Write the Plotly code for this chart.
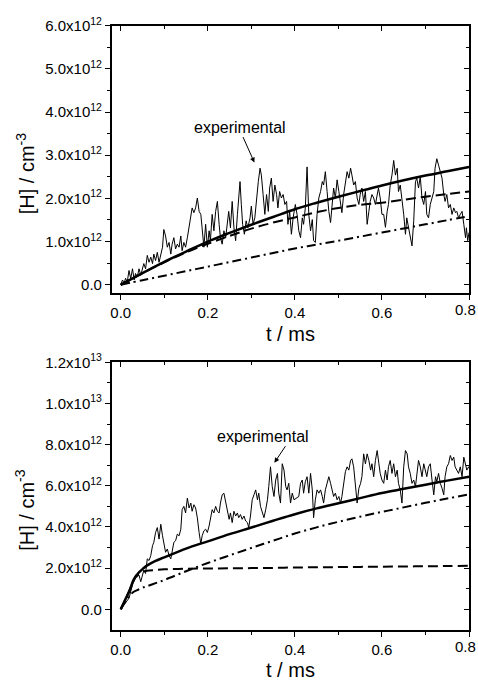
import plotly.graph_objects as go

# ---------------- data (H concentration in units of 1e12 cm^-3, t in ms) ----------------
t_model_top = [0, 0.05, 0.1, 0.15, 0.2, 0.25, 0.3, 0.35, 0.4, 0.45, 0.5, 0.55, 0.6, 0.65, 0.7, 0.75, 0.8]
solid_top = [0, 0.27, 0.53, 0.77, 1.0, 1.2, 1.39, 1.57, 1.75, 1.9, 2.04, 2.17, 2.30, 2.42, 2.53, 2.63, 2.73]
dashed_top = [0, 0.27, 0.52, 0.75, 0.95, 1.13, 1.3, 1.44, 1.56, 1.68, 1.78, 1.85, 1.90, 1.97, 2.04, 2.10, 2.16]
dashdot_top = [0, 0.105, 0.21, 0.315, 0.42, 0.525, 0.63, 0.735, 0.84, 0.93, 1.02, 1.115, 1.21, 1.305, 1.40, 1.495, 1.59]

t_exp_top = [0.000, 0.004, 0.008, 0.011, 0.015, 0.019, 0.023, 0.027, 0.031, 0.034, 0.038, 0.042, 0.046, 0.050,
             0.053, 0.057, 0.061, 0.065, 0.069, 0.073, 0.076, 0.080, 0.084, 0.088, 0.092, 0.096, 0.099, 0.103,
             0.107, 0.111, 0.115, 0.118, 0.122, 0.126, 0.130, 0.134, 0.138, 0.141, 0.145, 0.149, 0.153, 0.157,
             0.161, 0.164, 0.168, 0.172, 0.176, 0.180, 0.184, 0.187, 0.191, 0.195, 0.199, 0.203, 0.206, 0.210,
             0.214, 0.218, 0.222, 0.226, 0.229, 0.233, 0.237, 0.241, 0.245, 0.248, 0.252, 0.256, 0.260, 0.264,
             0.268, 0.271, 0.274, 0.277, 0.280, 0.284, 0.288, 0.292, 0.297, 0.300, 0.304, 0.308, 0.312, 0.316,
             0.320, 0.323, 0.327, 0.331, 0.335, 0.339, 0.342, 0.346, 0.350, 0.354, 0.358, 0.361, 0.365, 0.369,
             0.373, 0.377, 0.381, 0.384, 0.388, 0.392, 0.396, 0.401, 0.405, 0.409, 0.413, 0.417, 0.420, 0.424,
             0.428, 0.432, 0.436, 0.440, 0.443, 0.447, 0.451, 0.455, 0.459, 0.463, 0.466, 0.470, 0.474, 0.478,
             0.482, 0.485, 0.489, 0.493, 0.497, 0.501, 0.505, 0.508, 0.512, 0.516, 0.520, 0.524, 0.528, 0.531,
             0.535, 0.539, 0.543, 0.547, 0.550, 0.554, 0.558, 0.562, 0.566, 0.570, 0.573, 0.577, 0.581, 0.585,
             0.589, 0.592, 0.596, 0.600, 0.604, 0.608, 0.612, 0.615, 0.619, 0.623, 0.627, 0.631, 0.635, 0.638,
             0.642, 0.646, 0.650, 0.654, 0.657, 0.661, 0.665, 0.669, 0.673, 0.677, 0.680, 0.684, 0.688, 0.692,
             0.696, 0.700, 0.703, 0.707, 0.711, 0.715, 0.719, 0.722, 0.726, 0.730, 0.734, 0.738, 0.742, 0.745,
             0.749, 0.753, 0.757, 0.761, 0.765, 0.769, 0.772, 0.776, 0.780, 0.784, 0.788, 0.792, 0.794, 0.797,
             0.800]
h_exp_top = [0.00, 0.11, 0.04, 0.15, 0.07, 0.33, 0.14, 0.37, 0.11, 0.26, 0.18, 0.37, 0.22, 0.41,
             0.49, 0.37, 0.68, 0.52, 0.64, 0.49, 0.71, 0.56, 0.75, 0.52, 0.68, 0.87, 1.28, 1.13,
             0.87, 0.98, 0.71, 0.94, 1.09, 0.83, 0.94, 0.87, 1.13, 0.79, 0.98, 0.87, 1.09, 1.32,
             1.55, 1.78, 1.67, 1.78, 2.01, 1.70, 1.63, 1.25, 0.87, 1.40, 0.87, 1.25, 1.02, 1.63,
             1.25, 1.70, 1.93, 1.40, 1.09, 0.94, 1.25, 1.09, 1.55, 1.70, 1.32, 1.93, 1.32, 1.02,
             1.63, 2.16, 2.39, 1.86, 1.40, 1.17, 1.48, 1.32, 1.55, 1.82, 1.40, 1.55, 2.01, 2.39,
             2.70, 2.54, 2.09, 1.63, 2.09, 1.70, 2.24, 2.47, 1.93, 2.31, 2.09, 1.78, 2.16, 2.01,
             2.09, 1.86, 1.93, 1.40, 1.70, 1.17, 1.55, 1.86, 1.63, 1.25, 1.09, 1.55, 1.40, 1.78,
             2.73, 1.63, 1.25, 1.51, 1.02, 0.98, 1.63, 2.01, 2.16, 2.39, 2.31, 2.62, 2.16, 1.70,
             1.44, 1.86, 2.24, 2.01, 2.43, 2.16, 1.86, 1.67, 2.09, 2.39, 2.62, 2.47, 2.70, 2.54,
             2.31, 2.39, 2.01, 1.86, 2.09, 2.24, 1.93, 2.16, 1.40, 1.70, 1.93, 2.09, 2.01, 1.86,
             2.09, 2.24, 2.01, 1.63, 1.63, 1.33, 1.70, 1.86, 2.31, 2.54, 2.88, 2.54, 2.70, 2.16,
             2.31, 2.01, 1.63, 1.17, 1.55, 1.33, 1.09, 0.90, 1.48, 2.39, 2.47, 2.24, 2.50, 2.01,
             1.86, 2.16, 1.63, 1.55, 1.86, 2.01, 2.16, 2.70, 2.92, 2.77, 2.62, 2.47, 2.09, 1.93,
             2.09, 1.78, 1.86, 1.63, 1.78, 1.67, 1.70, 1.55, 1.63, 1.70, 1.40, 1.09, 1.32, 1.02,
             1.21]

t_model_bot = [0, 0.01, 0.02, 0.03, 0.04, 0.05, 0.06, 0.08, 0.1, 0.15, 0.2, 0.25, 0.3, 0.35, 0.4,
               0.45, 0.5, 0.55, 0.6, 0.65, 0.7, 0.75, 0.8]
solid_bot = [0, 0.45, 0.9, 1.45, 1.75, 1.95, 2.12, 2.35, 2.52, 2.95, 3.3, 3.65, 3.97, 4.3, 4.62,
             4.9, 5.15, 5.4, 5.65, 5.85, 6.05, 6.25, 6.44]
dashed_bot = [0, 0.45, 0.9, 1.4, 1.72, 1.82, 1.87, 1.91, 1.94, 1.97, 1.98, 1.99, 2.0, 2.01, 2.03,
              2.04, 2.05, 2.06, 2.07, 2.08, 2.09, 2.10, 2.11]
dashdot_bot = [0, 0.35, 0.65, 0.85, 0.95, 1.05, 1.12, 1.27, 1.42, 1.85, 2.25, 2.62, 2.98, 3.33, 3.68,
               3.98, 4.25, 4.5, 4.73, 4.95, 5.17, 5.38, 5.58]

t_exp_bot = [0.000, 0.011, 0.019, 0.027, 0.031, 0.034, 0.038, 0.042, 0.046, 0.050, 0.053, 0.057, 0.061,
             0.065, 0.069, 0.073, 0.076, 0.080, 0.084, 0.088, 0.092, 0.096, 0.099, 0.103, 0.107, 0.111,
             0.115, 0.118, 0.122, 0.126, 0.130, 0.134, 0.138, 0.141, 0.145, 0.149, 0.153, 0.157, 0.161,
             0.164, 0.168, 0.172, 0.176, 0.180, 0.184, 0.187, 0.191, 0.195, 0.199, 0.203, 0.206, 0.210,
             0.214, 0.218, 0.222, 0.226, 0.229, 0.233, 0.237, 0.241, 0.245, 0.249, 0.252, 0.256, 0.260,
             0.264, 0.268, 0.271, 0.275, 0.279, 0.283, 0.287, 0.291, 0.294, 0.298, 0.302, 0.306, 0.310,
             0.314, 0.317, 0.321, 0.325, 0.329, 0.333, 0.337, 0.340, 0.344, 0.348, 0.352, 0.356, 0.360,
             0.363, 0.367, 0.371, 0.375, 0.379, 0.382, 0.386, 0.390, 0.394, 0.398, 0.409, 0.413, 0.417,
             0.420, 0.424, 0.428, 0.432, 0.436, 0.440, 0.443, 0.447, 0.451, 0.455, 0.459, 0.463, 0.466,
             0.470, 0.474, 0.478, 0.482, 0.486, 0.489, 0.493, 0.497, 0.501, 0.505, 0.508, 0.512, 0.516,
             0.520, 0.524, 0.528, 0.531, 0.535, 0.539, 0.543, 0.547, 0.551, 0.554, 0.558, 0.562, 0.566,
             0.570, 0.574, 0.577, 0.581, 0.585, 0.589, 0.593, 0.596, 0.600, 0.604, 0.608, 0.612, 0.615,
             0.619, 0.623, 0.627, 0.631, 0.635, 0.638, 0.642, 0.646, 0.650, 0.654, 0.658, 0.661, 0.665,
             0.669, 0.673, 0.677, 0.681, 0.684, 0.688, 0.692, 0.696, 0.700, 0.703, 0.707, 0.711, 0.715,
             0.719, 0.723, 0.726, 0.730, 0.734, 0.738, 0.742, 0.745, 0.749, 0.753, 0.757, 0.761, 0.765,
             0.768, 0.772, 0.776, 0.780, 0.784, 0.788, 0.791, 0.795, 0.799, 0.800]
h_exp_bot = [0.00, 0.30, 0.54, 1.18, 1.50, 1.66, 1.58, 1.66, 1.34, 1.66, 1.90, 1.74, 2.45,
             2.37, 2.61, 3.09, 3.25, 3.73, 3.97, 3.41, 4.13, 3.57, 3.17, 2.77, 2.93, 2.61,
             2.45, 2.77, 3.25, 3.33, 3.65, 3.57, 3.89, 4.84, 5.00, 4.68, 5.40, 4.92, 5.16,
             4.76, 5.08, 4.92, 4.44, 3.73, 3.17, 3.57, 3.81, 3.89, 3.73, 4.05, 4.37, 4.84,
             4.68, 5.00, 4.76, 4.68, 5.16, 5.56, 5.64, 5.16, 4.68, 4.37, 4.68, 4.21, 4.76,
             4.53, 4.68, 4.45, 4.60, 4.37, 4.53, 4.29, 4.21, 3.97, 4.53, 5.32, 5.56, 5.80,
             5.32, 5.64, 5.00, 4.68, 4.45, 4.84, 5.32, 5.96, 6.92, 5.96, 5.48, 6.28, 6.60,
             5.64, 5.16, 7.07, 6.76, 5.96, 5.80, 6.12, 5.16, 5.64, 5.32, 5.48, 6.12, 6.28,
             5.64, 6.20, 6.44, 5.64, 6.60, 5.80, 4.45, 5.32, 5.80, 5.64, 5.80, 5.48, 5.16,
             5.80, 6.12, 6.44, 6.12, 5.80, 5.48, 5.64, 5.32, 5.48, 5.16, 5.48, 6.12, 6.68,
             6.92, 6.76, 7.23, 7.31, 6.92, 5.96, 5.16, 5.88, 6.12, 6.44, 7.55, 7.07, 7.55,
             7.23, 6.76, 7.07, 6.44, 7.23, 7.71, 7.07, 6.60, 6.28, 6.12, 6.76, 6.28, 6.92,
             7.23, 6.60, 7.07, 6.44, 6.76, 6.12, 5.80, 5.16, 6.92, 7.71, 7.55, 6.92, 6.60,
             6.12, 6.28, 5.96, 6.60, 7.23, 6.92, 6.44, 7.07, 6.76, 6.44, 6.92, 7.07, 6.28,
             5.56, 6.44, 6.20, 6.60, 6.12, 5.88, 5.56, 6.44, 6.92, 7.07, 7.47, 7.23, 7.39,
             6.92, 6.76, 6.60, 6.92, 6.44, 7.39, 7.07, 6.76, 6.92, 6.85]

x_ticks = [0, 0.2, 0.4, 0.6, 0.8]
x_ticktext = ["0.0", "0.2", "0.4", "0.6", "0.8"]
x_minor = [0.1, 0.3, 0.5, 0.7]
y_ticks_top = [0, 1, 2, 3, 4, 5, 6]
y_ticktext_top = ["0.0", "1.0x10<sup>12</sup>", "2.0x10<sup>12</sup>", "3.0x10<sup>12</sup>",
                  "4.0x10<sup>12</sup>", "5.0x10<sup>12</sup>", "6.0x10<sup>12</sup>"]
y_minor_top = [0.5, 1.5, 2.5, 3.5, 4.5, 5.5]
y_ticks_bot = [0, 2, 4, 6, 8, 10, 12]
y_ticktext_bot = ["0.0", "2.0x10<sup>12</sup>", "4.0x10<sup>12</sup>", "6.0x10<sup>12</sup>",
                  "8.0x10<sup>12</sup>", "1.0x10<sup>13</sup>", "1.2x10<sup>13</sup>"]
y_minor_bot = [1, 3, 5, 7, 9, 11]

x_title = "t / ms"
y_title = "[H] / cm<sup>-3</sup>"
label = "experimental"

# ---------------- figure ----------------
W, H = 478, 683
FONT = "Liberation Sans, Arial, sans-serif"
fig = go.Figure()

def px_x(p):
    return p / W

def px_y(p):
    return 1 - p / H

def add_set(xa, ya, t_exp, h_exp, t_mod, solid, dashed, dashdot):
    fig.add_trace(go.Scatter(x=t_exp, y=h_exp, mode="lines", xaxis=xa, yaxis=ya,
                             line=dict(color="black", width=1), showlegend=False))
    fig.add_trace(go.Scatter(x=t_mod, y=dashdot, mode="lines", xaxis=xa, yaxis=ya,
                             line=dict(color="black", width=2, dash="9px,4px,2px,4px", shape="spline"),
                             showlegend=False))
    fig.add_trace(go.Scatter(x=t_mod, y=dashed, mode="lines", xaxis=xa, yaxis=ya,
                             line=dict(color="black", width=2, dash="10px,5px", shape="spline"),
                             showlegend=False))
    fig.add_trace(go.Scatter(x=t_mod, y=solid, mode="lines", xaxis=xa, yaxis=ya,
                             line=dict(color="black", width=2.5, shape="spline"), showlegend=False))

add_set("x", "y", t_exp_top, h_exp_top, t_model_top, solid_top, dashed_top, dashdot_top)
add_set("x2", "y2", t_exp_bot, h_exp_bot, t_model_bot, solid_bot, dashed_bot, dashdot_bot)
# invisible anchors so the mirror-tick overlay axes get drawn
fig.add_trace(go.Scatter(x=[0], y=[0], mode="markers", marker=dict(opacity=0), hoverinfo="skip",
                         xaxis="x3", yaxis="y3", showlegend=False))
fig.add_trace(go.Scatter(x=[0], y=[0], mode="markers", marker=dict(opacity=0), hoverinfo="skip",
                         xaxis="x4", yaxis="y4", showlegend=False))

xdom = [px_x(111), px_x(469)]
top_dom = [px_y(287), px_y(15)]
bot_dom = [px_y(629), px_y(357)]
xr = [-0.0206, 0.8]
yr_top = [-0.2, 6.0]
yr_bot = [-1.0, 12.0]
tickfont = dict(family=FONT, size=15, color="black")
# the last x label sits on the page edge: it is drawn as an edge-clamped annotation below
x_ticktext_axis = x_ticktext[:-1] + [""]

def main_x(anchor):
    return dict(domain=xdom, anchor=anchor, range=xr, tickmode="array", tickvals=x_ticks,
                ticktext=x_ticktext_axis, ticks="outside", ticklen=5, tickwidth=1.2, tickcolor="black",
                minor=dict(tickmode="array", tickvals=x_minor, ticks="outside", ticklen=3,
                           tickwidth=1.2, tickcolor="black"),
                showline=True, linewidth=1.6, linecolor="black", mirror=True, showgrid=False,
                zeroline=False, tickfont=tickfont, fixedrange=True)

def main_y(anchor, domain, rng, tv, tt, mv):
    return dict(domain=domain, anchor=anchor, range=rng, tickmode="array", tickvals=tv,
                ticktext=tt, ticks="outside", ticklen=5, tickwidth=1.2, tickcolor="black",
                minor=dict(tickmode="array", tickvals=mv, ticks="outside", ticklen=3,
                           tickwidth=1.2, tickcolor="black"),
                showline=True, linewidth=1.6, linecolor="black", mirror=True, showgrid=False,
                zeroline=False, tickfont=tickfont, fixedrange=True)

def mirror_x(over, anchor):
    return dict(overlaying=over, anchor=anchor, side="top", range=xr, tickmode="array",
                tickvals=x_ticks, ticks="inside", ticklen=5, tickwidth=1.2, tickcolor="black",
                minor=dict(tickmode="array", tickvals=x_minor, ticks="inside", ticklen=3,
                           tickwidth=1.2, tickcolor="black"),
                showticklabels=False, showline=False, showgrid=False, zeroline=False, fixedrange=True)

def mirror_y(over, anchor, rng, tv, mv):
    return dict(overlaying=over, anchor=anchor, side="right", range=rng, tickmode="array",
                tickvals=tv, ticks="inside", ticklen=5, tickwidth=1.2, tickcolor="black",
                minor=dict(tickmode="array", tickvals=mv, ticks="inside", ticklen=3,
                           tickwidth=1.2, tickcolor="black"),
                showticklabels=False, showline=False, showgrid=False, zeroline=False, fixedrange=True)

fig.update_layout(
    width=W, height=H,
    margin=dict(l=0, r=0, t=0, b=0),
    paper_bgcolor="white", plot_bgcolor="white",
    font=dict(family=FONT, color="black"),
    xaxis=main_x("y"),
    yaxis=main_y("x", top_dom, yr_top, y_ticks_top, y_ticktext_top, y_minor_top),
    xaxis2=main_x("y2"),
    yaxis2=main_y("x2", bot_dom, yr_bot, y_ticks_bot, y_ticktext_bot, y_minor_bot),
    xaxis3=mirror_x("x", "y3"),
    yaxis3=mirror_y("y", "x3", yr_top, y_ticks_top, y_minor_top),
    xaxis4=mirror_x("x2", "y4"),
    yaxis4=mirror_y("y2", "x4", yr_bot, y_ticks_bot, y_minor_bot),
)

ann = []
title_font = dict(family=FONT, size=20, color="black")
for yc in (328, 670):
    ann.append(dict(x=px_x(290), y=px_y(yc), xref="paper", yref="paper", text=x_title,
                    showarrow=False, font=title_font, xanchor="center", yanchor="middle"))
for yc in (165, 507):
    ann.append(dict(x=px_x(24), y=px_y(yc), xref="paper", yref="paper", text=y_title,
                    showarrow=False, font=title_font, textangle=-90,
                    xanchor="center", yanchor="middle"))
# last x tick label, clamped inside the page edge
for xa, ya in (("x", "y domain"), ("x2", "y2 domain")):
    ann.append(dict(x=x_ticks[-1], y=0, xref=xa, yref=ya, text=x_ticktext[-1], showarrow=False,
                    font=tickfont, xanchor="right", yanchor="top", xshift=9, yshift=-6))
# "experimental" labels
lab_font = dict(family=FONT, size=16, color="black")
ann.append(dict(x=0.275, y=3.65, xref="x", yref="y", text=label, showarrow=False,
                font=lab_font, xanchor="center", yanchor="middle"))
ann.append(dict(x=0.326, y=8.37, xref="x2", yref="y2", text=label, showarrow=False,
                font=lab_font, xanchor="center", yanchor="middle"))
# arrows
ann.append(dict(x=0.307, y=2.83, xref="x", yref="y", text="", showarrow=True,
                ax=-12, ay=-27, arrowhead=2, arrowsize=1, arrowwidth=1, arrowcolor="black"))
ann.append(dict(x=0.353, y=7.12, xref="x2", yref="y2", text="", showarrow=True,
                ax=12, ay=-18, arrowhead=2, arrowsize=1, arrowwidth=1, arrowcolor="black"))
fig.update_layout(annotations=ann)

fig.write_html("out.html", config={"displayModeBar": False})
